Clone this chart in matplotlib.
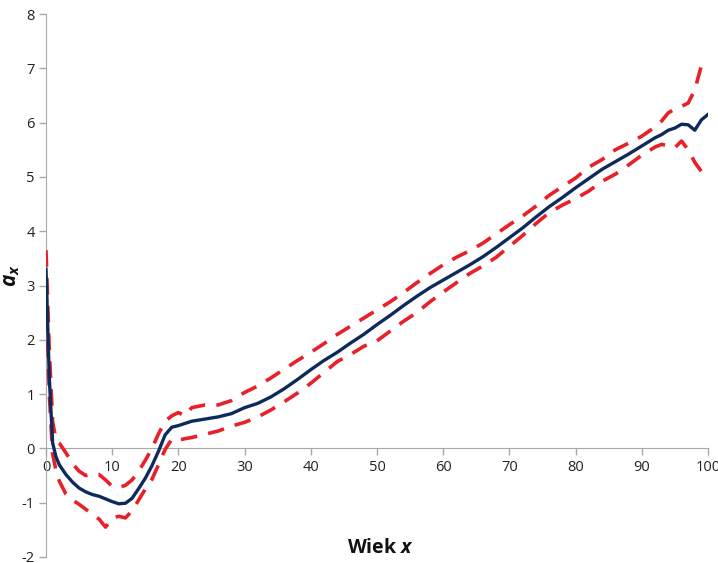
import matplotlib
matplotlib.use("Agg")
import matplotlib.pyplot as plt

ages = [0, 0.5, 1, 1.5, 2, 3, 4, 5, 6, 7, 8, 9, 10, 11, 12, 13, 14, 15, 16, 17, 18, 19, 20, 21,
        22, 24, 26, 28, 30, 32, 34, 36, 38, 40, 42, 44, 46, 48, 50, 52, 54, 56, 58, 60, 62, 64,
        66, 68, 70, 72, 74, 76, 78, 80, 82, 84, 86, 88, 90, 92, 93, 94, 95, 96, 97, 98, 99, 100]

a_x = [3.3, 1.3, 0.1, -0.15, -0.3, -0.48, -0.62, -0.73, -0.8, -0.85, -0.88, -0.93, -0.98, -1.02,
       -1.01, -0.92, -0.74, -0.55, -0.32, -0.05, 0.25, 0.39, 0.42, 0.46,
       0.5, 0.54, 0.58, 0.64, 0.75, 0.83, 0.95, 1.1, 1.27, 1.45, 1.62, 1.77, 1.94, 2.1, 2.28,
       2.45, 2.63, 2.8, 2.96, 3.1, 3.24, 3.38, 3.53, 3.7, 3.88, 4.06, 4.26, 4.45, 4.62, 4.8,
       4.97, 5.14, 5.28, 5.42, 5.57, 5.72, 5.78, 5.86, 5.9, 5.97, 5.96, 5.86, 6.05, 6.15]

upper = [3.65, 1.8, 0.5, 0.15, 0.1, -0.08, -0.28, -0.42, -0.5, -0.47, -0.48, -0.58, -0.7, -0.72,
         -0.68, -0.58, -0.42, -0.22, 0.0, 0.27, 0.5, 0.6, 0.66, 0.6,
         0.75, 0.8, 0.8, 0.88, 1.03, 1.15, 1.3, 1.46, 1.62, 1.77, 1.93, 2.1, 2.25, 2.4, 2.55,
         2.7, 2.87, 3.05, 3.22, 3.38, 3.52, 3.64, 3.78, 3.95, 4.12, 4.28, 4.46, 4.66, 4.82, 4.98,
         5.18, 5.32, 5.5, 5.62, 5.75, 5.92, 6.03, 6.18, 6.25, 6.3, 6.36, 6.6, 7.05, 7.16]

lower = [3.0, 1.0, -0.1, -0.4, -0.6, -0.84, -0.95, -1.03, -1.12, -1.22, -1.3, -1.45, -1.28, -1.25,
         -1.28, -1.15, -0.95, -0.75, -0.57, -0.3, -0.02, 0.17, 0.15, 0.18,
         0.2, 0.26, 0.32, 0.41, 0.48, 0.58, 0.71, 0.86, 1.02, 1.2, 1.4, 1.6, 1.73, 1.88, 1.98,
         2.16, 2.34, 2.5, 2.7, 2.88, 3.05, 3.22, 3.36, 3.52, 3.72, 3.92, 4.14, 4.34, 4.48, 4.6,
         4.74, 4.92, 5.05, 5.22, 5.4, 5.55, 5.6, 5.57, 5.54, 5.66, 5.5, 5.27, 5.1, 5.17]

x_ticks = [0, 10, 20, 30, 40, 50, 60, 70, 80, 90, 100]
y_ticks = [-2, -1, 0, 1, 2, 3, 4, 5, 6, 7, 8]

plt.rcParams['font.family'] = ['Open Sans', 'DejaVu Sans']
plt.rcParams['mathtext.fontset'] = 'custom'
plt.rcParams['mathtext.it'] = 'Open Sans:italic:bold'
plt.rcParams['mathtext.rm'] = 'Open Sans:bold'

fig = plt.figure(figsize=(7.18, 5.63), dpi=100)
ax = fig.add_axes([46/718, 6/563, 662/718, 543/563])

red = '#e8202a'
navy = '#0d2a5c'
ax.plot(ages, upper, color=red, lw=2.6, dashes=(4.6, 3.1), zorder=3)
ax.plot(ages, lower, color=red, lw=2.6, dashes=(4.6, 3.1), zorder=3)
ax.plot(ages, a_x, color=navy, lw=2.4, zorder=4)

ax.set_xlim(0, 100)
ax.set_ylim(-2, 8)
ax.set_xticks(x_ticks)
ax.set_yticks(y_ticks)
ax.set_xticklabels([str(t) for t in x_ticks])
ax.set_yticklabels([str(t) for t in y_ticks])

for s in ['top', 'right']:
    ax.spines[s].set_visible(False)
ax.spines['bottom'].set_position(('data', 0))
ax.spines['left'].set_position(('data', 0))
ax.spines['bottom'].set_color('#a8a8a8')
ax.spines['left'].set_color('#a8a8a8')
ax.tick_params(axis='both', colors='#a8a8a8', labelcolor='#222222', labelsize=10.5,
               length=5, width=1)
ax.tick_params(axis='x', direction='out', pad=3)
ax.tick_params(axis='y', direction='out', pad=3)
for lab in ax.get_xticklabels():
    lab.set_clip_on(False)

fig.text(380/718, 1 - 548/563, r'Wiek $x$', ha='center', va='center',
         fontsize=14, fontweight='bold', color='#111111')
fig.text(11/718, 1 - 276/563, r'$a_x$', ha='center', va='center',
         fontsize=15, rotation=90, color='#111111')

fig.savefig('out.png', dpi=100)
